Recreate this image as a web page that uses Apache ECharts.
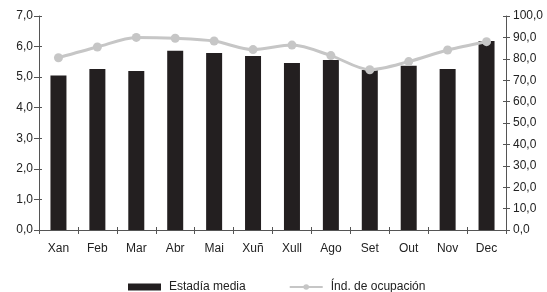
<!DOCTYPE html>
<html>
<head>
<meta charset="utf-8">
<script src="https://cdn.jsdelivr.net/npm/echarts@6/dist/echarts.min.js"></script>
<style>
  html, body { margin: 0; padding: 0; background: #fff; }
  #chart { width: 547px; height: 292px; }
</style>
</head>
<body>
<div id="chart"></div>
<script>
const months = ['Xan', 'Feb', 'Mar', 'Abr', 'Mai', 'Xuñ', 'Xull', 'Ago', 'Set', 'Out', 'Nov', 'Dec']
const estadiaMedia = [5.05, 5.27, 5.2, 5.86, 5.79, 5.69, 5.46, 5.56, 5.23, 5.37, 5.27, 6.18]
const ocupacion = [80.5, 85.5, 90.0, 89.6, 88.3, 84.3, 86.4, 81.5, 74.9, 78.7, 84.1, 88.0]

const axisColor = '#555555'
const textColor = '#222222'
const fontFamily = 'Liberation Sans, Arial, sans-serif'
const fmt = (v) => v.toFixed(1).replace('.', ',')

const chart = echarts.init(document.getElementById('chart'), null, { renderer: 'canvas' })

// ejes extra só para as marcas cara a dentro (as marcas cruzan o eixo)
const innerTicks = { show: true, inside: true, length: 3, lineStyle: { color: axisColor } }

const option = {
  animation: false,
  backgroundColor: '#ffffff',
  textStyle: { fontFamily: fontFamily },
  grid: { left: 39, right: 41, top: 16, bottom: 62 },
  legend: {
    top: 281,
    left: 128,
    padding: 0,
    itemGap: 43,
    itemWidth: 33,
    itemHeight: 7,
    textStyle: { color: textColor, fontSize: 12, fontFamily: fontFamily, padding: [0, 0, 0, 3] },
    data: [
      { name: 'Estadía media', icon: 'rect' },
      { name: 'Índ. de ocupación' },
    ],
  },
  xAxis: [
    {
      type: 'category',
      data: months,
      axisLine: { lineStyle: { color: axisColor, width: 1 } },
      axisTick: { show: true, length: 4, lineStyle: { color: axisColor } },
      axisLabel: { color: textColor, fontSize: 12, margin: 13 },
    },
    {
      type: 'category',
      position: 'top',
      data: months,
      axisLine: { show: true, lineStyle: { color: axisColor, width: 1 } },
      axisTick: { show: false },
      axisLabel: { show: false },
    },
    {
      type: 'category',
      position: 'bottom',
      data: months,
      axisLine: { show: false },
      axisTick: innerTicks,
      axisLabel: { show: false },
    },
  ],
  yAxis: [
    {
      type: 'value',
      min: 0,
      max: 7,
      interval: 1,
      axisLine: { show: true, lineStyle: { color: axisColor, width: 1 } },
      axisTick: { show: true, length: 5, lineStyle: { color: axisColor } },
      axisLabel: { color: textColor, fontSize: 12, margin: 6, formatter: fmt },
      splitLine: { show: false },
    },
    {
      type: 'value',
      min: 0,
      max: 100,
      interval: 10,
      position: 'right',
      axisLine: { show: true, lineStyle: { color: axisColor, width: 1 } },
      axisTick: { show: true, length: 4, lineStyle: { color: axisColor } },
      axisLabel: { color: textColor, fontSize: 12, margin: 7, formatter: fmt },
      splitLine: { show: false },
    },
    {
      type: 'value',
      min: 0,
      max: 7,
      interval: 1,
      position: 'left',
      axisLine: { show: false },
      axisTick: innerTicks,
      axisLabel: { show: false },
      splitLine: { show: false },
    },
    {
      type: 'value',
      min: 0,
      max: 100,
      interval: 10,
      position: 'right',
      axisLine: { show: false },
      axisTick: innerTicks,
      axisLabel: { show: false },
      splitLine: { show: false },
    },
  ],
  series: [
    {
      name: 'Estadía media',
      type: 'bar',
      yAxisIndex: 0,
      data: estadiaMedia,
      barWidth: 16,
      itemStyle: { color: '#231f20' },
    },
    {
      name: 'Índ. de ocupación',
      type: 'line',
      yAxisIndex: 1,
      data: ocupacion,
      smooth: 0.3,
      symbol: 'circle',
      symbolSize: 9,
      lineStyle: { color: '#c6c6c6', width: 3 },
      itemStyle: { color: '#c6c6c6' },
      z: 3,
    },
  ],
}

chart.setOption(option)
</script>
</body>
</html>
